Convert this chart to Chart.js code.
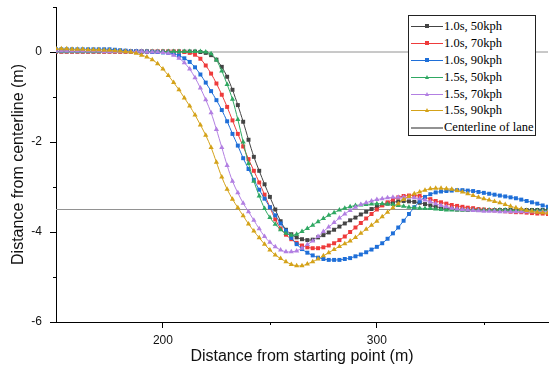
<!DOCTYPE html>
<html>
<head>
<meta charset="utf-8">
<script src="https://cdn.jsdelivr.net/npm/chart.js@4.4.1/dist/chart.umd.min.js"></script>
<style>
  body { margin: 0; background: #fff; }
  #wrap { position: relative; width: 552px; height: 373px; }
  #legend {
    position: absolute; left: 408px; top: 15px; width: 126px; height: 117px;
    border: 1px solid #222; background: #fff; padding-top: 2px; box-sizing: content-box;
    font: 12.5px "Liberation Serif", "Times New Roman", serif; color: #000;
  }
  .item { height: 16.9px; display: flex; align-items: center; white-space: nowrap; }
  .swatch { position: relative; width: 32px; height: 1px; margin-left: 2px; margin-right: 1px; }
  .swatch i { position: absolute; left: 14px; top: -1.5px; width: 4px; height: 4px; }
  .swatch i.tri { width: 0; height: 0; background: none !important; top: -2px;
    border-left: 2.5px solid transparent; border-right: 2.5px solid transparent; border-bottom: 4px solid; }
</style>
</head>
<body>
<div id="wrap">
  <canvas id="chart"></canvas>
  <div id="legend"></div>
</div>
<script>
// lateral offset of the vehicle vs distance travelled
const distance = [
  150, 152.5, 155, 157.5, 160, 162.5, 165, 167.5, 170, 172.5,
  175, 177.5, 180, 182.5, 185, 187.5, 190, 192.5, 195, 197.5,
  200, 202.5, 205, 207.5, 210, 212.5, 215, 217.5, 220, 222.5,
  225, 227.5, 230, 232.5, 235, 237.5, 240, 242.5, 245, 247.5,
  250, 252.5, 255, 257.5, 260, 262.5, 265, 267.5, 270, 272.5,
  275, 277.5, 280, 282.5, 285, 287.5, 290, 292.5, 295, 297.5,
  300, 302.5, 305, 307.5, 310, 312.5, 315, 317.5, 320, 322.5,
  325, 327.5, 330, 332.5, 335, 337.5, 340, 342.5, 345, 347.5,
  350, 352.5, 355, 357.5, 360, 362.5, 365, 367.5, 370, 372.5,
  375, 377.5, 380
];

const seriesNames = ["1.0s, 50kph", "1.0s, 70kph", "1.0s, 90kph", "1.5s, 50kph", "1.5s, 70kph", "1.5s, 90kph"];
const laneName = "Centerline of lane";

const t10v50 = [
  0.01, 0.01, 0.01, 0.01, 0.01, 0.01, 0.01, 0.01, 0.01, 0.01,
  0.01, 0.01, 0.01, 0.01, 0.01, 0.01, 0.01, 0.01, 0.01, 0.01,
  0.01, 0.01, 0.01, 0.01, 0.01, 0.01, 0.01, 0.0, -0.02, -0.07,
  -0.17, -0.33, -0.55, -0.84, -1.18, -1.55, -1.95, -2.33, -2.64, -2.94,
  -3.22, -3.5, -3.76, -3.95, -4.05, -4.12, -4.16, -4.18, -4.17, -4.12,
  -4.07, -4.01, -3.95, -3.88, -3.81, -3.74, -3.68, -3.61, -3.55, -3.49,
  -3.44, -3.4, -3.37, -3.34, -3.32, -3.31, -3.32, -3.33, -3.35, -3.38,
  -3.41, -3.44, -3.46, -3.48, -3.49, -3.5, -3.5, -3.51, -3.51, -3.51,
  -3.51, -3.51, -3.51, -3.51, -3.51, -3.51, -3.51, -3.51, -3.51, -3.51,
  -3.51, -3.51, -3.51
];
const t10v70 = [
  0.01, 0.01, 0.01, 0.01, 0.01, 0.01, 0.01, 0.01, 0.01, 0.01,
  0.01, 0.01, 0.01, 0.01, 0.01, 0.01, 0.01, 0.01, 0.01, 0.01,
  0.01, 0.01, 0.01, 0.01, 0.0, -0.02, -0.06, -0.15, -0.3, -0.48,
  -0.7, -0.95, -1.22, -1.52, -1.82, -2.1, -2.38, -2.64, -2.9, -3.17,
  -3.45, -3.72, -3.92, -4.06, -4.16, -4.24, -4.3, -4.34, -4.36, -4.36,
  -4.34, -4.3, -4.25, -4.18, -4.1, -4.0, -3.9, -3.8, -3.7, -3.6,
  -3.5, -3.41, -3.34, -3.28, -3.23, -3.2, -3.19, -3.19, -3.2, -3.23,
  -3.27, -3.31, -3.34, -3.37, -3.4, -3.42, -3.44, -3.46, -3.47, -3.49,
  -3.5, -3.51, -3.52, -3.53, -3.54, -3.55, -3.56, -3.56, -3.57, -3.58,
  -3.59, -3.59, -3.6
];
const t10v90 = [
  0.06, 0.06, 0.06, 0.06, 0.06, 0.06, 0.06, 0.06, 0.06, 0.06,
  0.06, 0.05, 0.04, 0.03, 0.02, 0.02, 0.01, 0.01, 0.0, 0.0,
  -0.01, -0.02, -0.04, -0.08, -0.14, -0.22, -0.34, -0.5, -0.68, -0.87,
  -1.07, -1.29, -1.54, -1.82, -2.08, -2.36, -2.6, -2.84, -3.06, -3.26,
  -3.45, -3.63, -3.81, -3.97, -4.13, -4.27, -4.38, -4.46, -4.52, -4.57,
  -4.6, -4.62, -4.62, -4.62, -4.6, -4.58, -4.54, -4.5, -4.45, -4.39,
  -4.33, -4.25, -4.15, -4.03, -3.9, -3.75, -3.6, -3.45, -3.32, -3.22,
  -3.16, -3.12, -3.1, -3.09, -3.08, -3.07, -3.07, -3.08, -3.09, -3.11,
  -3.13, -3.15, -3.17, -3.19, -3.21, -3.23, -3.25, -3.28, -3.31, -3.34,
  -3.37, -3.41, -3.44
];
const t15v50 = [
  0.01, 0.01, 0.01, 0.01, 0.01, 0.01, 0.01, 0.01, 0.01, 0.01,
  0.01, 0.01, 0.01, 0.01, 0.01, 0.01, 0.01, 0.01, 0.01, 0.01,
  0.01, 0.01, 0.01, 0.01, 0.01, 0.01, 0.01, 0.01, 0.0, -0.04,
  -0.18, -0.42, -0.72, -1.05, -1.5, -2.0, -2.48, -2.87, -3.2, -3.48,
  -3.68, -3.83, -3.95, -4.03, -4.07, -4.05, -3.99, -3.92, -3.85, -3.77,
  -3.7, -3.63, -3.57, -3.51, -3.47, -3.44, -3.41, -3.4, -3.39, -3.38,
  -3.37, -3.37, -3.38, -3.39, -3.41, -3.43, -3.45, -3.46, -3.47, -3.48,
  -3.48, -3.49, -3.5, -3.51, -3.51, -3.51, -3.51, -3.51, -3.51, -3.51,
  -3.51, -3.51, -3.51, -3.51, -3.51, -3.52, -3.52, -3.52, -3.52, -3.52,
  -3.52, -3.52, -3.52
];
const t15v70 = [
  0.02, 0.02, 0.02, 0.02, 0.02, 0.02, 0.02, 0.02, 0.02, 0.01,
  0.01, 0.01, 0.01, 0.01, 0.01, 0.01, 0.01, 0.0, 0.0, 0.0,
  -0.01, -0.03, -0.07, -0.14, -0.24, -0.38, -0.57, -0.8, -1.06, -1.35,
  -1.72, -2.12, -2.52, -2.87, -3.13, -3.36, -3.55, -3.74, -3.93, -4.1,
  -4.23, -4.33, -4.4, -4.44, -4.44, -4.42, -4.36, -4.28, -4.2, -4.1,
  -3.99, -3.89, -3.79, -3.69, -3.6, -3.52, -3.45, -3.39, -3.35, -3.31,
  -3.28, -3.26, -3.24, -3.23, -3.23, -3.23, -3.23, -3.24, -3.26, -3.29,
  -3.33, -3.37, -3.41, -3.44, -3.47, -3.49, -3.5, -3.51, -3.52, -3.53,
  -3.54, -3.54, -3.54, -3.55, -3.55, -3.55, -3.55, -3.55, -3.55, -3.55,
  -3.55, -3.55, -3.55
];
const t15v90 = [
  0.07, 0.07, 0.07, 0.06, 0.06, 0.06, 0.05, 0.05, 0.05, 0.04,
  0.04, 0.03, 0.02, 0.01, 0.0, -0.03, -0.07, -0.11, -0.17, -0.26,
  -0.38, -0.52, -0.68, -0.84, -1.02, -1.2, -1.4, -1.62, -1.85, -2.12,
  -2.45, -2.78, -3.05, -3.27, -3.46, -3.64, -3.82, -3.98, -4.13, -4.27,
  -4.4, -4.51, -4.59, -4.66, -4.72, -4.75, -4.75, -4.71, -4.66, -4.6,
  -4.53, -4.46, -4.39, -4.32, -4.26, -4.2, -4.12, -4.03, -3.94, -3.85,
  -3.76, -3.66, -3.56, -3.46, -3.37, -3.28, -3.21, -3.15, -3.11, -3.07,
  -3.04, -3.03, -3.03, -3.04, -3.05, -3.08, -3.11, -3.15, -3.19, -3.23,
  -3.26, -3.29, -3.32, -3.35, -3.39, -3.43, -3.46, -3.49, -3.52, -3.54,
  -3.56, -3.57, -3.58
];

const seriesValues = [t10v50, t10v70, t10v90, t15v50, t15v70, t15v90];
const seriesColors = ["#444444", "#ee3b3b", "#1f6fd8", "#2fa862", "#b27fe2", "#d4a219"];
const seriesMarkers = ["rect", "rect", "rect", "triangle", "triangle", "triangle"];

// lane centerlines (m) and axis ticks
const laneLevels = [0, -3.5];
const xRange = [150, 380];
const yRange = [-6, 1];
const xMajorTicks = [200, 300];
const xMinorTicks = [250, 350];
const yMajorTicks = [-6, -4, -2, 0];
const yMinorTicks = [-5, -3, -1, 1];

const laneColor = "#929292";

const datasets = seriesValues.map((vals, i) => ({
  label: seriesNames[i],
  data: distance.map((x, k) => ({ x, y: vals[k] })),
  borderColor: seriesColors[i],
  backgroundColor: seriesColors[i],
  borderWidth: 1,
  pointStyle: seriesMarkers[i],
  pointRadius: seriesMarkers[i] === "rect" ? 2.8 : 3,
  pointBorderWidth: 0,
  pointBackgroundColor: seriesColors[i],
  tension: 0.3,
  order: 10 - i
}));

// centerlines: one dataset, broken by a null point
const laneData = [];
laneLevels.forEach((lv, i) => {
  if (i > 0) laneData.push({ x: xRange[1], y: null });
  laneData.push({ x: xRange[0], y: lv }, { x: xRange[1], y: lv });
});
datasets.push({
  label: laneName,
  data: laneData,
  borderColor: laneColor,
  borderWidth: 1,
  pointRadius: 0,
  spanGaps: false,
  order: 20
});

const minorTicks = {
  id: "minorTicks",
  afterDraw(chart) {
    const { ctx, chartArea, scales: { x, y } } = chart;
    ctx.save();
    ctx.strokeStyle = "#000";
    ctx.lineWidth = 1;
    ctx.beginPath();
    xMinorTicks.forEach(v => {
      const px = Math.round(x.getPixelForValue(v)) + 0.5;
      ctx.moveTo(px, chartArea.bottom);
      ctx.lineTo(px, chartArea.bottom + 3);
    });
    yMinorTicks.forEach(v => {
      const py = Math.round(y.getPixelForValue(v)) + 0.5;
      ctx.moveTo(chartArea.left - 3, py);
      ctx.lineTo(chartArea.left, py);
    });
    ctx.stroke();
    ctx.restore();
  }
};

const tickFont = { family: "Liberation Sans", size: 12 };
const titleFont = { family: "Liberation Sans", size: 16 };

new Chart(document.getElementById("chart"), {
  type: "line",
  data: { datasets },
  options: {
    responsive: true,
    maintainAspectRatio: false,
    animation: false,
    events: [],
    layout: { padding: { top: 7, right: 3, left: 0, bottom: 0 } },
    plugins: { legend: { display: false }, tooltip: { enabled: false } },
    scales: {
      x: {
        type: "linear",
        min: xRange[0],
        max: xRange[1],
        afterBuildTicks: s => { s.ticks = xMajorTicks.map(v => ({ value: v })); },
        afterFit: s => { s.height = 51; s.paddingLeft = 0; s.paddingRight = 0; },
        grid: { drawOnChartArea: false, tickLength: 6, color: "#000" },
        border: { color: "#000", width: 1 },
        ticks: { color: "#111", font: tickFont, padding: 5, maxRotation: 0 },
        title: { display: true, text: "Distance from starting point (m)", color: "#111",
                 font: titleFont, padding: { top: 0, bottom: 7 } }
      },
      y: {
        type: "linear",
        min: yRange[0],
        max: yRange[1],
        afterBuildTicks: s => { s.ticks = yMajorTicks.map(v => ({ value: v })); },
        afterFit: s => { s.width = 56; s.paddingTop = 0; s.paddingBottom = 0; },
        grid: { drawOnChartArea: false, tickLength: 6, color: "#000" },
        border: { color: "#000", width: 1 },
        ticks: { color: "#111", font: tickFont, padding: 8 },
        title: { display: true, text: "Distance from centerline (m)", color: "#111",
                 font: titleFont, padding: { top: 9, bottom: 0 } }
      }
    }
  },
  plugins: [minorTicks]
});

// legend: short line with the marker in its middle
const legend = document.getElementById("legend");
seriesNames.concat([laneName]).forEach((name, i) => {
  const row = document.createElement("div");
  row.className = "item";
  const sw = document.createElement("span");
  sw.className = "swatch";
  if (i < seriesNames.length) {
    sw.style.background = seriesColors[i];
    const m = document.createElement("i");
    if (seriesMarkers[i] === "triangle") {
      m.className = "tri";
      m.style.borderBottomColor = seriesColors[i];
    } else {
      m.style.background = seriesColors[i];
    }
    sw.appendChild(m);
  } else {
    sw.style.background = laneColor;
    sw.style.height = "2px";
  }
  const label = document.createElement("span");
  label.textContent = name;
  row.appendChild(sw);
  row.appendChild(label);
  legend.appendChild(row);
});
</script>
</body>
</html>
